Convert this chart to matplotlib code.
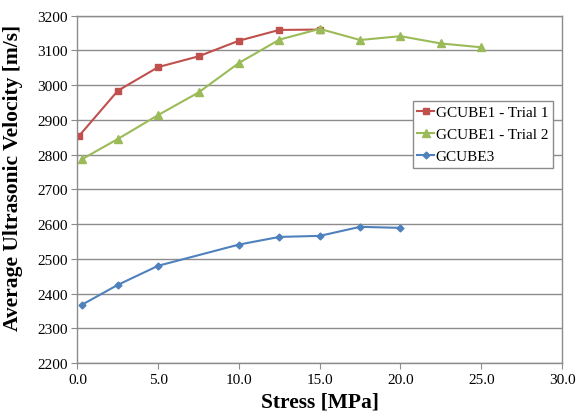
import numpy as np
import matplotlib.pyplot as plt

plt.rcParams['font.family'] = ['Liberation Serif', 'DejaVu Serif']

# Data
x_trial1 = [0.1, 2.5, 5.0, 7.5, 10.0, 12.5, 15.0]
v_trial1 = [2854, 2984, 3052, 3083, 3128, 3159, 3160]

x_trial2 = [0.25, 2.5, 5.0, 7.5, 10.0, 12.5, 15.0, 17.5, 20.0, 22.5, 25.0]
v_trial2 = [2786, 2845, 2914, 2979, 3064, 3131, 3162, 3130, 3141, 3120, 3109]

x_cube3 = [0.25, 2.5, 5.0, 10.0, 12.5, 15.0, 17.5, 20.0]
v_cube3 = [2367, 2425, 2480, 2541, 2563, 2566, 2592, 2589]

fig = plt.figure(figsize=(5.76, 4.14), dpi=100)
ax = fig.add_axes([0.1345, 0.1208, 0.8412, 0.8389])

ax.plot(x_trial1, v_trial1, color='#C0504D', marker='s', markersize=5, lw=1.5, label='GCUBE1 - Trial 1')
ax.plot(x_trial2, v_trial2, color='#9BBB59', marker='^', markersize=5.5, lw=1.5, label='GCUBE1 - Trial 2')
ax.plot(x_cube3, v_cube3, color='#4F81BD', marker='D', markersize=3.5, lw=1.5, label='GCUBE3')

ax.set_xlim(0, 30)
ax.set_ylim(2200, 3200)
ax.set_xticks(np.arange(0, 31, 5))
ax.set_xticklabels([f"{t:.1f}" for t in np.arange(0, 31, 5)])
ax.set_yticks(np.arange(2200, 3201, 100))

ax.grid(axis='y', color='#8c8c8c', lw=1)
ax.set_axisbelow(True)
for s in ax.spines.values():
    s.set_color('#8c8c8c')
    s.set_linewidth(1)
ax.tick_params(direction='out', color='#8c8c8c', length=4, labelsize=11, pad=3)

ax.set_xlabel('Stress [MPa]', fontsize=15.5, fontweight='bold', labelpad=4)
ax.set_ylabel('Average Ultrasonic Velocity [m/s]', fontsize=15.5, fontweight='bold', labelpad=3)
ax.yaxis.set_label_coords(-0.112, 0.535)

leg = ax.legend(loc='upper left', bbox_to_anchor=(0.692, 0.755), fontsize=11,
                fancybox=False, edgecolor='#8c8c8c', framealpha=1,
                handlelength=1.1, handletextpad=0.1, borderpad=0.3, labelspacing=0.55,
                borderaxespad=0)
leg.get_frame().set_linewidth(1)

fig.savefig('out.png', dpi=100)
